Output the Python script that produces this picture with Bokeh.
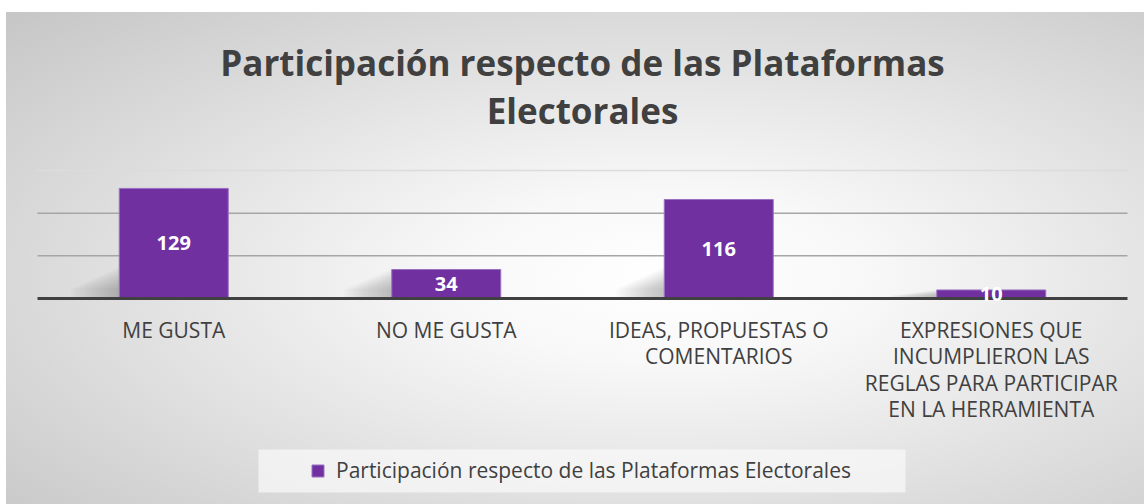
from bokeh.plotting import figure
from bokeh.models import Range1d, Legend, LegendItem
from bokeh.core.properties import value
from bokeh.embed import file_html
from bokeh.resources import INLINE

# ---- data ----
categories = [
    "ME GUSTA",
    "NO ME GUSTA",
    "IDEAS, PROPUESTAS O\nCOMENTARIOS",
    "EXPRESIONES QUE\nINCUMPLIERON LAS\nREGLAS PARA PARTICIPAR\nEN LA HERRAMIENTA",
]
values = [129, 34, 116, 10]
series_name = "Participación respecto de las Plataformas Electorales"
title_lines = ["Participación respecto de las Plataformas", "Electorales"]
grid_values = [50, 100]
y_max = 150

# ---- layout (pixels) ----
W, H = 1144, 504
PLOT_LEFT, PLOT_RIGHT = 37, 1127
AXIS_Y, TOP_Y = 298, 170
TITLE_Y = [62, 110]
LABEL_TOP_Y = 315
LEGEND_BOX = (258, 905, 449, 492)  # left, right, top, bottom
BAR_WIDTH = 0.4

FONT = "Open Sans"
TEXT_COLOR = "#404040"
BAR_COLOR = "#7030A0"

n = len(categories)
cat_px = (PLOT_RIGHT - PLOT_LEFT) / n
ppu = (AXIS_Y - TOP_Y) / y_max


def xpx(px):
    return (px - PLOT_LEFT) / cat_px


def ypx(py):
    return (AXIS_Y - py) / ppu


xs = [i + 0.5 for i in range(n)]

p = figure(
    width=W,
    height=H,
    x_range=Range1d(xpx(0), xpx(W)),
    y_range=Range1d(ypx(H), ypx(0)),
    output_backend="svg",
    toolbar_location=None,
    title=None,
    min_border=0,
)
p.xaxis.visible = False
p.yaxis.visible = False
p.grid.visible = False
p.outline_line_color = None
p.background_fill_alpha = 0
p.border_fill_alpha = 0
p.styles = {
    "background": "linear-gradient(to bottom, #ffffff 0px, #ffffff 12px, rgba(255,255,255,0) 12px), "
    "linear-gradient(to right, #ffffff 0px, #ffffff 6px, rgba(255,255,255,0) 6px), "
    "radial-gradient(ellipse farthest-corner at 58% 55%, #ffffff 0%, #f8f8f8 22%, #c4c4c4 100%)"
}

# gridlines
p.segment(x0=[0] * len(grid_values), x1=[n] * len(grid_values), y0=grid_values, y1=grid_values,
          line_color="#a6a6a6", line_width=1.5)
p.segment(x0=[0], x1=[n], y0=[y_max], y1=[y_max], line_color="#dcdcdc", line_width=1.5)

# soft shadows on the left of the bars (decoration derived from the bar values)
for k in range(16):
    lefts = [x - BAR_WIDTH / 2 - (k + 1) * 0.011 for x in xs]
    rights = [x - BAR_WIDTH / 2 for x in xs]
    tops = [min(v, 36) * (1 - k * 0.045) for v in values]
    p.quad(left=lefts, right=rights, bottom=[0] * n, top=tops,
           fill_color="#555555", fill_alpha=0.022, line_color=None)

# bars
r = p.vbar(x=xs, top=values, width=BAR_WIDTH,
           fill_color=BAR_COLOR, line_color="#9a70c2", line_width=1)

# axis line
p.segment(x0=[0], x1=[n], y0=[0], y1=[0], line_color=TEXT_COLOR, line_width=3)

# data labels
p.text(x=xs, y=[v / 2 for v in values], text=[str(v) for v in values],
       text_color="white", text_font=value(FONT), text_font_style="bold",
       text_font_size="20px", text_align="center", text_baseline="middle")

# category labels
p.text(x=xs, y=[ypx(LABEL_TOP_Y)] * n, text=categories,
       text_color=TEXT_COLOR, text_font=value(FONT), text_font_size="21px",
       text_align="center", text_baseline="top", text_line_height=0.95)

# title
p.text(x=[n / 2] * len(title_lines), y=[ypx(t) for t in TITLE_Y], text=title_lines,
       text_color=TEXT_COLOR, text_font=value(FONT), text_font_style="bold",
       text_font_size="35px", text_align="center", text_baseline="middle")

# legend box
lb = LEGEND_BOX
p.quad(left=[xpx(lb[0])], right=[xpx(lb[1])], top=[ypx(lb[2])], bottom=[ypx(lb[3])],
       fill_color="#fafafa", fill_alpha=0.7, line_color=None)

legend = Legend(
    items=[LegendItem(label=series_name, renderers=[r])],
    location=(310, H - 484),
    orientation="horizontal",
    label_text_font=FONT,
    label_text_font_size="21px",
    label_text_color=TEXT_COLOR,
    glyph_width=15,
    glyph_height=15,
    label_standoff=11,
    padding=0,
    margin=0,
    background_fill_alpha=0,
    border_line_color=None,
)
p.add_layout(legend, "center")

open("out.html", "w").write(file_html(p, INLINE))
